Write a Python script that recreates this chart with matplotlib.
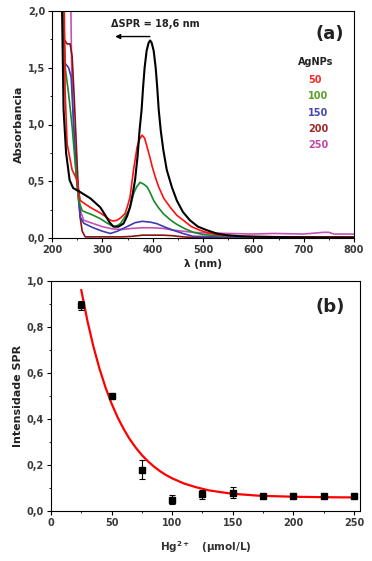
import matplotlib
matplotlib.use("Agg")
import matplotlib.pyplot as plt
from matplotlib.ticker import MultipleLocator, FuncFormatter

plt.rcParams['font.family'] = ['DejaVu Sans']
plt.rcParams['font.weight'] = 'bold'

# (a) UV-vis spectra
black_wl = [219, 220, 223, 228, 235, 242, 256, 276, 296, 306, 314, 322, 332, 342, 349, 355, 360, 365,
            370, 374, 378, 381, 384, 388, 392, 395, 398, 402, 406, 409, 412, 416, 421, 428, 438, 448,
            460, 474, 490, 508, 527, 547, 575, 600, 650, 700, 800]
black_abs = [2.2, 2.0, 1.13, 0.75, 0.51, 0.44, 0.405, 0.35, 0.27, 0.2, 0.14, 0.1, 0.1, 0.127, 0.19,
             0.27, 0.38, 0.51, 0.72, 0.95, 1.13, 1.33, 1.5, 1.65, 1.72, 1.74, 1.72, 1.65, 1.5, 1.33,
             1.13, 0.95, 0.78, 0.6, 0.45, 0.33, 0.23, 0.156, 0.1, 0.068, 0.04, 0.025, 0.015, 0.012,
             0.008, 0.006, 0.004]

red_wl = [224, 226, 230, 240, 250, 256, 266, 276, 296, 306, 316, 322, 329, 337, 345, 350, 355, 362,
          369, 374, 379, 384, 389, 394, 399, 405, 412, 422, 435, 448, 461, 477, 494, 510, 527, 550,
          600, 700, 800]
red_abs = [2.2, 1.3, 0.83, 0.6, 0.51, 0.33, 0.3, 0.27, 0.22, 0.19, 0.156, 0.15, 0.156, 0.18, 0.215,
           0.28, 0.36, 0.6, 0.8, 0.87, 0.906, 0.88, 0.8, 0.72, 0.63, 0.54, 0.45, 0.35, 0.27, 0.2,
           0.156, 0.1, 0.068, 0.045, 0.03, 0.02, 0.012, 0.01, 0.008]

green_wl = [222, 226, 233, 240, 246, 253, 260, 282, 296, 310, 318, 326, 336, 344, 352, 357, 362, 368,
            375, 382, 389, 395, 402, 411, 421, 435, 448, 465, 481, 500, 530, 580, 650, 800]
green_abs = [2.2, 1.51, 1.27, 0.98, 0.66, 0.33, 0.24, 0.2, 0.17, 0.13, 0.11, 0.1, 0.127, 0.18, 0.24,
             0.3, 0.39, 0.45, 0.49, 0.475, 0.45, 0.4, 0.33, 0.27, 0.215, 0.16, 0.12, 0.08, 0.05, 0.03,
             0.02, 0.012, 0.008, 0.005]

blue_wl = [221, 223, 226, 233, 238, 243, 248, 256, 263, 282, 300, 316, 330, 349, 365, 379, 395, 408,
           425, 441, 460, 480, 520, 600, 800]
blue_abs = [2.2, 1.8, 1.54, 1.5, 1.42, 1.0, 0.55, 0.185, 0.13, 0.09, 0.06, 0.04, 0.06, 0.1, 0.135,
            0.147, 0.14, 0.127, 0.095, 0.068, 0.04, 0.015, 0.01, 0.008, 0.005]

brown_wl = [220, 224, 230, 236, 240, 244, 248, 252, 256, 260, 266, 280, 340, 360, 380, 420, 440, 460,
            480, 550, 800]
brown_abs = [2.2, 1.75, 1.71, 1.71, 1.6, 1.25, 0.85, 0.45, 0.18, 0.06, 0.01, 0.01, 0.01, 0.015, 0.025,
             0.025, 0.02, 0.01, 0.005, 0.0, 0.0]

pink_wl = [237, 239, 243, 250, 256, 263, 282, 300, 320, 340, 360, 380, 400, 420, 440, 460, 480, 500,
           550, 600, 640, 700, 740, 750, 760, 800]
pink_abs = [2.2, 1.5, 0.98, 0.54, 0.245, 0.156, 0.127, 0.1, 0.08, 0.075, 0.085, 0.09, 0.09, 0.085,
            0.07, 0.06, 0.05, 0.045, 0.04, 0.035, 0.04, 0.035, 0.05, 0.05, 0.035, 0.035]

# (b) SPR intensity vs Hg2+
hg_conc = [25, 50, 75, 100, 125, 150, 175, 200, 225, 250]
spr_int = [0.895, 0.50, 0.18, 0.05, 0.073, 0.08, 0.065, 0.065, 0.065, 0.065]
spr_err = [0.02, 0.01, 0.04, 0.02, 0.02, 0.025, 0.005, 0.005, 0.005, 0.005]

fit_x = [25, 30, 35, 40, 45, 50, 55, 60, 65, 70, 75, 80, 85, 90, 95, 100, 110, 120, 130, 140,
         150, 160, 170, 180, 200, 225, 250]
fit_y = [0.960, 0.828, 0.715, 0.619, 0.537, 0.467, 0.407, 0.356, 0.312, 0.275, 0.243, 0.216, 0.193,
         0.173, 0.156, 0.142, 0.119, 0.103, 0.090, 0.082, 0.075, 0.071, 0.067, 0.065, 0.062, 0.060, 0.059]

legend_labels = ['50', '100', '150', '200', '250']
legend_colors = ['#ff2a2a', '#5b9e28', '#4646b4', '#a02a2a', '#c048a8']

tick_col = '#3a3a3a'
comma = lambda d: FuncFormatter(lambda v, p: f"{v:.{d}f}".replace('.', ','))


def style_axes(ax):
    ax.tick_params(which='major', direction='out', length=3, width=0.8, labelsize=7, colors='k',
                   labelcolor=tick_col, pad=2)
    ax.tick_params(which='minor', direction='out', length=1.6, width=0.6)
    for lab in ax.get_xticklabels() + ax.get_yticklabels():
        lab.set_fontweight('bold')
    for s in ax.spines.values():
        s.set_linewidth(0.8)


fig = plt.figure(figsize=(3.72, 5.61), dpi=100)

# ---- (a)
ax1 = fig.add_axes([52 / 372, (561 - 238) / 561, 302 / 372, 227 / 561])
lw = 1.2
ax1.plot(pink_wl, pink_abs, color='#c850b4', lw=lw)
ax1.plot(brown_wl, brown_abs, color='#8b1010', lw=lw)
ax1.plot(blue_wl, blue_abs, color='#3c3cb4', lw=lw)
ax1.plot(green_wl, green_abs, color='#188a28', lw=lw)
ax1.plot(red_wl, red_abs, color='#ff1010', lw=lw)
ax1.plot(black_wl, black_abs, color='k', lw=1.5)
ax1.set_xlim(200, 800)
ax1.set_ylim(0, 2)
ax1.xaxis.set_major_locator(MultipleLocator(100))
ax1.xaxis.set_minor_locator(MultipleLocator(50))
ax1.yaxis.set_major_locator(MultipleLocator(0.5))
ax1.yaxis.set_minor_locator(MultipleLocator(0.25))
ax1.yaxis.set_major_formatter(comma(1))
style_axes(ax1)
ax1.set_xlabel('λ (nm)', fontsize=7.5, fontweight='bold', color='#222222', labelpad=3)
ax1.set_ylabel('Absorbancia', fontsize=8, fontweight='bold', color='#222222', labelpad=3)

ax1.annotate('', xy=(320, 1.775), xytext=(400, 1.775),
             arrowprops=dict(arrowstyle='-|>', color='k', lw=1, mutation_scale=7))
ax1.text(317, 1.885, 'ΔSPR = 18,6 nm', fontsize=7, fontweight='bold', color='#222222',
         va='center', ha='left')
ax1.text(0.92, 0.9, '(a)', transform=ax1.transAxes, fontsize=13, fontweight='bold',
         ha='center', va='center', color='#222222')
ax1.text(0.874, 0.775, 'AgNPs', transform=ax1.transAxes, fontsize=7, fontweight='bold',
         ha='center', va='center', color='#222222')
for lab, col, yy in zip(legend_labels, legend_colors, [0.696, 0.626, 0.551, 0.480, 0.410]):
    ax1.text(0.848, yy, lab, transform=ax1.transAxes, fontsize=7, fontweight='bold',
             ha='left', va='center', color=col)

# ---- (b)
ax2 = fig.add_axes([51 / 372, (561 - 511) / 561, 309 / 372, 230 / 561])
ax2.plot(fit_x, fit_y, color='#ff0000', lw=1.6, zorder=3)
ax2.errorbar(hg_conc, spr_int, yerr=spr_err, fmt='s', color='k', ms=5, capsize=2,
             elinewidth=0.8, capthick=0.8, zorder=4)
ax2.set_xlim(0, 255)
ax2.set_ylim(0, 1)
ax2.xaxis.set_major_locator(MultipleLocator(50))
ax2.xaxis.set_minor_locator(MultipleLocator(25))
ax2.yaxis.set_major_locator(MultipleLocator(0.2))
ax2.yaxis.set_minor_locator(MultipleLocator(0.1))
ax2.yaxis.set_major_formatter(comma(1))
style_axes(ax2)
ax2.set_xlabel('Hg$^{2+}$   (µmol/L)', fontsize=7.5, fontweight='bold', color='#333333', labelpad=8)
ax2.set_ylabel('Intensidade SPR', fontsize=8, fontweight='bold', color='#222222', labelpad=3)
ax2.text(0.903, 0.888, '(b)', transform=ax2.transAxes, fontsize=13, fontweight='bold',
         ha='center', va='center', color='#222222')

fig.savefig('out.png', dpi=100)
